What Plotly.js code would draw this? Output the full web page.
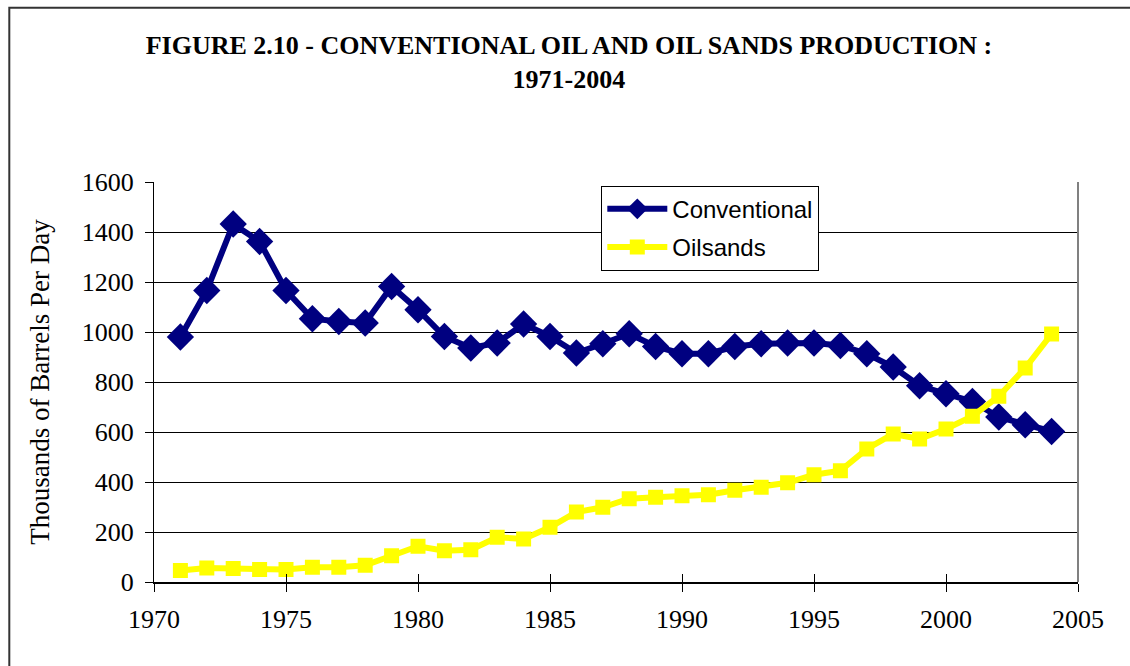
<!DOCTYPE html>
<html>
<head>
<meta charset="utf-8">
<script src="https://cdn.plot.ly/plotly-3.0.1.min.js"></script>
<style>
  html, body { margin: 0; padding: 0; background: #ffffff; }
  #chart { width: 1130px; height: 666px; }
</style>
</head>
<body>
<div id="chart"></div>
<script>
const years = [1971,1972,1973,1974,1975,1976,1977,1978,1979,1980,1981,1982,1983,1984,1985,1986,1987,1988,1989,1990,1991,1992,1993,1994,1995,1996,1997,1998,1999,2000,2001,2002,2003,2004];
const conventional = [980,1166,1432,1362,1166,1053,1042,1036,1182,1089,982,936,956,1032,982,916,953,993,942,913,913,942,953,956,956,946,913,860,785,753,722,660,629,602];
const oilsands = [46,56,54,50,50,59,59,67,105,143,125,129,179,172,219,280,299,333,339,345,349,367,379,397,429,445,532,592,572,612,663,743,856,992];
const xTicks = [1970,1975,1980,1985,1990,1995,2000,2005];
const yTicks = [0,200,400,600,800,1000,1200,1400,1600];
const seriesNames = ["Conventional","Oilsands"];
const titleText = "FIGURE 2.10 - CONVENTIONAL OIL AND OIL SANDS PRODUCTION :<br>1971-2004";
const yTitle = "Thousands of Barrels Per Day";

const serif = "Liberation Serif, Times New Roman, serif";
const sans = "Liberation Sans, Arial, sans-serif";

const traces = [
  {
    x: years, y: conventional, name: seriesNames[0], type: "scatter", mode: "lines+markers",
    legendgroup: "a",
    line: {color: "#000080", width: 6},
    marker: {symbol: "diamond", size: 21, color: "#000080"}
  },
  {
    x: years, y: oilsands, name: seriesNames[1], type: "scatter", mode: "lines+markers",
    legendgroup: "b",
    line: {color: "#FFFF00", width: 6},
    marker: {symbol: "square", size: 15, color: "#FFFF00"}
  },
  {
    x: [xTicks[0]], y: [yTicks[0]], xaxis: "x2", yaxis: "y", showlegend: false,
    mode: "markers", marker: {opacity: 0}, hoverinfo: "skip"
  }
];

const layout = {
  width: 1130, height: 666,
  paper_bgcolor: "#ffffff", plot_bgcolor: "#ffffff",
  margin: {l: 154, r: 52, t: 182, b: 84},
  title: {
    text: titleText,
    font: {family: serif, size: 26, color: "#000000", weight: "bold"},
    x: 0.5035, xref: "container", xanchor: "center",
    y: 0.919, yref: "container", yanchor: "middle"
  },
  xaxis: {
    range: [xTicks[0], xTicks[xTicks.length-1]],
    tickmode: "array", tickvals: xTicks, ticktext: xTicks.map(String),
    ticks: "outside", ticklen: 8, tickwidth: 1, tickcolor: "#000000",
    showline: true, linecolor: "#000000", linewidth: 2,
    showgrid: false, zeroline: false,
    tickfont: {family: serif, size: 26, color: "#000000"},
    ticklabelstandoff: 5
  },
  xaxis2: {
    overlaying: "x", matches: "x",
    range: [xTicks[0], xTicks[xTicks.length-1]],
    tickmode: "array", tickvals: xTicks, showticklabels: false,
    ticks: "inside", ticklen: 8, tickwidth: 1, tickcolor: "#000000",
    showline: false, showgrid: false, zeroline: false
  },
  yaxis: {
    range: [yTicks[0], yTicks[yTicks.length-1]],
    tickmode: "array", tickvals: yTicks, ticktext: yTicks.map(String),
    ticks: "outside", ticklen: 8, tickwidth: 1, tickcolor: "#000000",
    showline: true, linecolor: "#000000", linewidth: 1,
    showgrid: true, gridcolor: "#000000", gridwidth: 1,
    zeroline: false,
    tickfont: {family: serif, size: 26, color: "#000000"},
    ticklabelstandoff: 6,
    title: {text: yTitle, font: {family: serif, size: 27, color: "#000000"}, standoff: 24}
  },
  legend: {
    x: 0.4841, y: 0.9908, xanchor: "left", yanchor: "top",
    bgcolor: "#ffffff", bordercolor: "#000000", borderwidth: 1,
    font: {family: sans, size: 24, color: "#000000"},
    traceorder: "grouped", tracegroupgap: 4, itemwidth: 60
  },
  shapes: [
    {type: "rect", xref: "paper", yref: "paper", x0: -0.1566, x1: 1.2, y0: -0.4, y1: 1.4358,
     line: {color: "#333333", width: 2}, fillcolor: "rgba(0,0,0,0)", layer: "below"},
    {type: "line", xref: "paper", yref: "paper", x0: 1, x1: 1, y0: 0, y1: 1,
     line: {color: "#808080", width: 2}}
  ],
  showlegend: true
};

Plotly.newPlot("chart", traces, layout, {displayModeBar: false, staticPlot: true});
</script>
</body>
</html>
